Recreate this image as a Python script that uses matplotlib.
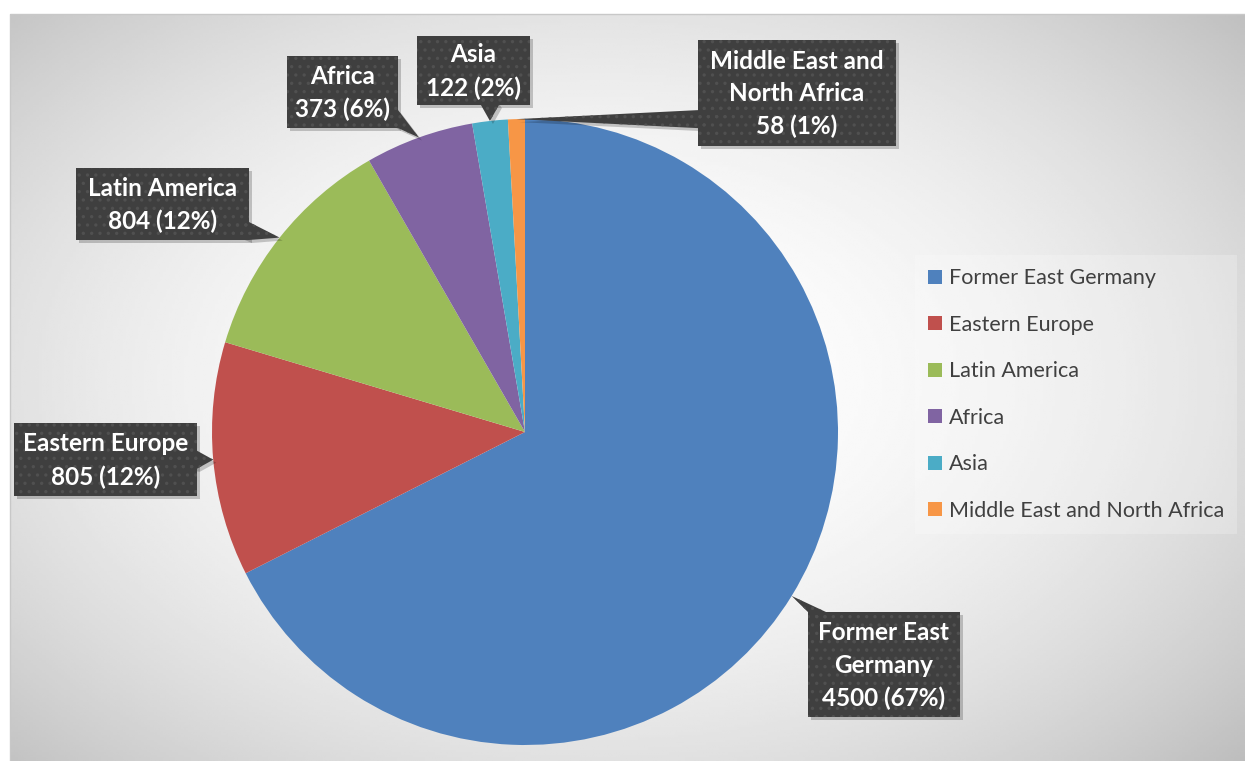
import matplotlib.pyplot as plt
import numpy as np
from matplotlib.patches import Rectangle, Polygon

regions = ["Former East Germany", "Eastern Europe", "Latin America",
           "Africa", "Asia", "Middle East and North Africa"]
counts = [4500, 805, 804, 373, 122, 58]
shares = [67, 12, 12, 6, 2, 1]
callout_names = ["Former East\nGermany", "Eastern Europe", "Latin America",
                 "Africa", "Asia", "Middle East and\nNorth Africa"]
colors = ["#4F81BD", "#C0504D", "#9BBB59", "#8064A2", "#4BACC6", "#F79646"]

W, H = 1245, 761
# callout boxes in image pixels: centre x, centre y, width, height
boxes = [(884, 664.5, 152, 105), (105.5, 459.5, 183, 73), (162.5, 204, 173, 72),
         (342.5, 92, 111, 72), (473.5, 70.5, 113, 69), (797, 93, 198, 106)]
pie_cx, pie_cy, pie_r = 525, 432, 313

plt.rcParams['font.family'] = ['Lato', 'DejaVu Sans']
plt.rcParams['hatch.linewidth'] = 1.2

fig = plt.figure(figsize=(W / 100, H / 100), dpi=100)
ax = fig.add_axes([0, 0, 1, 1])


def iy(y):
    return H - y


# background: white outside, soft radial gradient inside the chart area
x0, y0 = 10, 14
gx, gy = np.meshgrid(np.linspace(x0, W, 400), np.linspace(y0, H, 300))
r2 = ((gx - 600) / 750) ** 2 + ((gy - 380) / 480) ** 2
grey = np.clip(255 - 48 * r2, 0, 255) / 255
ax.imshow(grey, cmap='gray', vmin=0, vmax=1, extent=(x0, W, iy(H), iy(y0)),
          origin='upper', aspect='auto', zorder=0, interpolation='bilinear')
ax.add_patch(Rectangle((x0, iy(H) - 1), W - x0 + 2, H - y0 + 1, fill=False,
                       edgecolor='#c8c8c8', lw=1, zorder=1))

wedges, _ = ax.pie(counts, colors=colors, startangle=90, counterclock=False,
                   center=(pie_cx, iy(pie_cy)), radius=pie_r,
                   wedgeprops=dict(linewidth=0, zorder=2))

box_col, dot_col = '#3f3f3f', '#505050'
for w, name, n, s, (bx, by, bw, bh) in zip(wedges, callout_names, counts, shares, boxes):
    ang = np.deg2rad((w.theta1 + w.theta2) / 2)
    tip = np.array([pie_cx + pie_r * np.cos(ang), iy(pie_cy) + pie_r * np.sin(ang)])
    c = np.array([bx, iy(by)])
    d = tip - c
    left, right = c[0] - bw / 2, c[0] + bw / 2
    bot, top = c[1] - bh / 2, c[1] + bh / 2
    # pick the box side facing the tip, put the tail base there
    tx = (bw / 2) / abs(d[0]) if d[0] != 0 else np.inf
    ty = (bh / 2) / abs(d[1]) if d[1] != 0 else np.inf
    hw = 9
    if tx < ty:
        ex = right if d[0] > 0 else left
        m = np.clip(tip[1], bot + hw, top - hw)
        b1, b2 = (ex, m - hw), (ex, m + hw)
    else:
        ey = top if d[1] > 0 else bot
        m = np.clip(tip[0], left + hw, right - hw)
        b1, b2 = (m - hw, ey), (m + hw, ey)
    tail = [b1, tuple(tip), b2, tuple(c)]
    ax.add_patch(Polygon([(x + 3, y - 3) for x, y in tail], closed=True,
                         facecolor='black', alpha=0.2, lw=0, zorder=3))
    ax.add_patch(Rectangle((left + 3, bot - 3), bw, bh,
                           facecolor='black', alpha=0.2, lw=0, zorder=3))
    for patch in (Polygon(tail, closed=True), Rectangle((left, bot), bw, bh)):
        patch.set(facecolor=box_col, lw=0, zorder=5)
        ax.add_patch(patch)
    for patch in (Polygon(tail, closed=True), Rectangle((left, bot), bw, bh)):
        patch.set(facecolor='none', edgecolor=dot_col, hatch='..', lw=0, zorder=6)
        ax.add_patch(patch)
    ax.text(c[0], c[1] - 1, f"{name}\n{n} ({s}%)", ha='center', va='center',
            multialignment='center', color='white', fontweight='bold',
            fontsize=17.5, linespacing=1.5, zorder=7)

leg = ax.legend(wedges, regions, loc='upper left',
                bbox_to_anchor=(915 / W, 1 - 255 / H), borderaxespad=0,
                frameon=True, fontsize=15.5, labelcolor='#404040',
                handlelength=0.65, handleheight=0.65, handletextpad=0.3,
                labelspacing=1.23, borderpad=0.62, fancybox=False)
leg.get_frame().set_facecolor('white')
leg.get_frame().set_alpha(0.22)
leg.get_frame().set_edgecolor('none')

ax.set_xlim(0, W)
ax.set_ylim(0, H)
ax.set_aspect('auto')
ax.axis('off')

fig.savefig('out.png', dpi=100)
